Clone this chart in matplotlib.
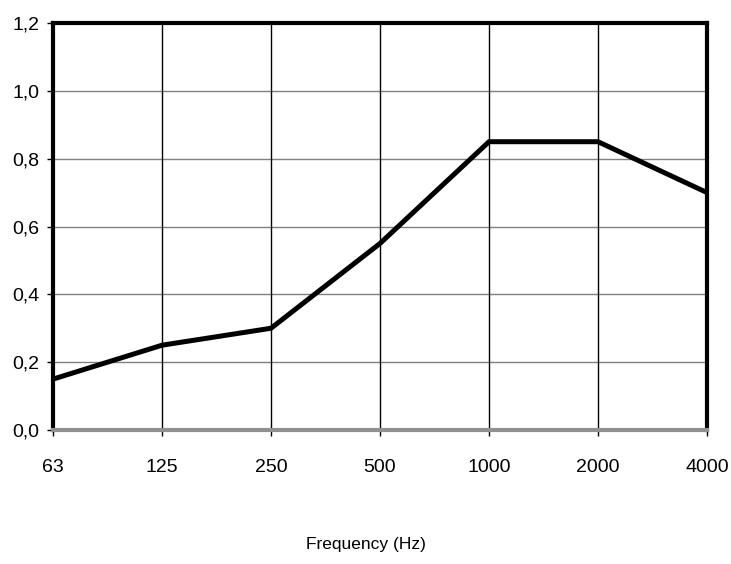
import numpy as np
import matplotlib.pyplot as plt

# octave band data
freqs = ['63', '125', '250', '500', '1000', '2000', '4000']
alpha = [0.15, 0.25, 0.30, 0.55, 0.85, 0.85, 0.70]
yticks = [0.0, 0.2, 0.4, 0.6, 0.8, 1.0, 1.2]

plt.rcParams['font.family'] = ['Liberation Sans', 'DejaVu Sans']

fig = plt.figure(figsize=(7.31, 5.64), dpi=100)
ax = fig.add_axes([53/731, 1 - 430/564, 654/731, 407/564])

x = np.arange(len(freqs))
ax.plot(x, alpha, color='black', lw=3.6, solid_joinstyle='miter', zorder=3)

ax.set_xlim(0, len(freqs) - 1)
ax.set_ylim(0, 1.2)
ax.set_xticks(x)
ax.set_xticklabels(freqs)
ax.set_yticks(yticks)
ax.set_yticklabels([f'{v:.1f}'.replace('.', ',') for v in yticks])

# grid: grey horizontals, black verticals
for v in yticks[1:-1]:
    ax.axhline(v, color='#808080', lw=1, zorder=1)
for xi in x[1:-1]:
    ax.axvline(xi, color='black', lw=1, zorder=1)

for s in ['left', 'top', 'right']:
    ax.spines[s].set_linewidth(3)
    ax.spines[s].set_color('black')
ax.spines['bottom'].set_color('#909090')
ax.spines['bottom'].set_linewidth(3)

ax.tick_params(axis='both', direction='out', length=4, width=1, labelsize=14, color='black')
ax.tick_params(axis='x', pad=17)
ax.tick_params(axis='y', pad=6)

fig.text(0.5, 1 - 545/564, 'Frequency (Hz)', ha='center', va='center', fontsize=12.5)

fig.savefig('out.png', dpi=100)
